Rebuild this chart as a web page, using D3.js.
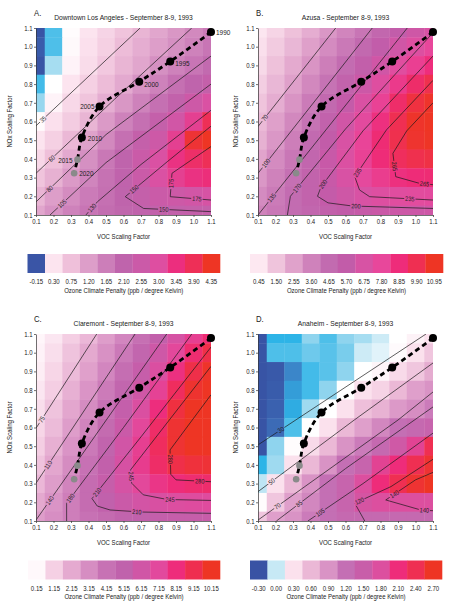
<!DOCTYPE html>
<html>
<head>
<meta charset="utf-8">
<script src="https://cdn.jsdelivr.net/npm/d3@7"></script>
<style>
body { margin: 0; background: #fff; }
text { font-family: "Liberation Sans", Arial, sans-serif; fill: #222; }
</style>
</head>
<body>
<div id="chart"></div>
<script>
// grid of scaling factors (columns = VOC, rows = NOx from top to bottom)
const vocVals = [0.1, 0.2, 0.3, 0.4, 0.5, 0.6, 0.7, 0.8, 0.9, 1.0, 1.1];
const noxVals = [1.1, 1.0, 0.9, 0.8, 0.7, 0.6, 0.5, 0.4, 0.3, 0.2, 0.1];

// emission trajectory
const years   = [1990, 1995, 2000, 2005, 2010, 2015, 2020];
const trajVoc = [1.10, 0.867, 0.69, 0.463, 0.362, 0.337, 0.318];
const trajNox = [1.078, 0.921, 0.813, 0.68, 0.514, 0.396, 0.323];

const letters = ["A.", "B.", "C.", "D."];
const titles = [
  "Downtown Los Angeles - September 8-9, 1993",
  "Azusa - September 8-9, 1993",
  "Claremont - September 8-9, 1993",
  "Anaheim - September 8-9, 1993"
];

// ozone climate penalty (ppb / K)
const penaltyA = [
  [-0.45, -0.12, 0.14, 0.30, 0.50, 0.70, 0.90, 1.10, 1.30, 1.50, 1.70],
  [-0.42, -0.12, 0.16, 0.35, 0.55, 0.80, 1.00, 1.20, 1.40, 1.60, 1.80],
  [-0.45, -0.03, 0.20, 0.40, 0.65, 0.90, 1.10, 1.40, 1.60, 1.80, 2.00],
  [-0.13, 0.12, 0.30, 0.55, 0.80, 1.05, 1.35, 1.60, 1.90, 2.10, 2.30],
  [-0.05, 0.20, 0.45, 0.70, 1.00, 1.30, 1.60, 1.90, 2.20, 2.60, 2.90],
  [0.15, 0.35, 0.60, 0.90, 1.25, 1.60, 1.90, 2.30, 2.70, 3.20, 3.90],
  [0.30, 0.55, 0.85, 1.15, 1.50, 1.90, 2.30, 2.60, 3.20, 4.20, 4.35],
  [0.45, 0.75, 1.05, 1.40, 1.75, 2.10, 2.50, 2.90, 3.40, 3.70, 3.90],
  [0.70, 0.95, 1.25, 1.55, 1.85, 2.15, 2.50, 2.90, 3.20, 3.40, 3.50],
  [0.90, 1.20, 1.45, 1.70, 1.90, 2.10, 2.30, 2.50, 2.60, 2.70, 2.80],
  [1.10, 1.35, 1.60, 1.80, 1.95, 2.05, 2.15, 2.20, 2.25, 2.30, 2.30]
];
const penaltyB = [
  [0.5, 1.0, 1.6, 2.2, 2.9, 3.5, 4.2, 4.9, 5.6, 6.3, 6.8],
  [0.7, 1.3, 1.9, 2.6, 3.3, 4.0, 4.8, 5.6, 6.4, 7.1, 7.8],
  [0.9, 1.6, 2.3, 3.0, 3.8, 4.6, 5.5, 6.4, 7.3, 8.1, 8.8],
  [1.2, 1.9, 2.6, 3.4, 4.3, 5.2, 6.2, 7.2, 8.3, 9.3, 10.0],
  [1.5, 2.2, 3.0, 3.9, 4.8, 5.8, 6.9, 8.0, 9.3, 10.3, 10.8],
  [1.8, 2.6, 3.4, 4.3, 5.3, 6.4, 7.5, 8.7, 9.9, 10.8, 11.0],
  [2.1, 2.9, 3.8, 4.7, 5.7, 6.8, 7.9, 9.0, 10.0, 10.7, 10.9],
  [2.5, 3.3, 4.1, 5.0, 6.0, 7.0, 8.0, 8.9, 9.6, 10.0, 10.2],
  [2.9, 3.6, 4.4, 5.2, 6.0, 6.8, 7.6, 8.2, 8.7, 8.9, 9.0],
  [3.3, 3.9, 4.6, 5.2, 5.8, 6.3, 6.8, 7.1, 7.3, 7.4, 7.5],
  [3.6, 4.1, 4.6, 5.0, 5.4, 5.7, 5.9, 6.1, 6.2, 6.2, 6.3]
];
const penaltyC = [
  [0.2, 0.6, 1.2, 1.8, 2.6, 3.4, 4.3, 5.3, 6.4, 7.5, 8.3],
  [0.3, 0.8, 1.5, 2.2, 3.0, 3.9, 4.9, 6.0, 7.2, 8.4, 9.3],
  [0.4, 1.0, 1.7, 2.5, 3.4, 4.4, 5.5, 6.7, 8.0, 9.3, 10.0],
  [0.6, 1.2, 2.0, 2.9, 3.8, 4.9, 6.1, 7.4, 8.8, 9.9, 10.3],
  [0.8, 1.5, 2.3, 3.2, 4.2, 5.4, 6.7, 8.1, 9.5, 10.3, 10.4],
  [1.0, 1.7, 2.6, 3.5, 4.6, 5.8, 7.2, 8.6, 9.8, 10.4, 10.5],
  [1.2, 2.0, 2.9, 3.9, 5.0, 6.2, 7.5, 8.8, 9.8, 10.3, 10.4],
  [1.5, 2.3, 3.2, 4.2, 5.3, 6.5, 7.6, 8.6, 9.3, 9.6, 9.7],
  [1.8, 2.6, 3.5, 4.5, 5.5, 6.4, 7.2, 7.8, 8.2, 8.4, 8.5],
  [2.2, 2.9, 3.7, 4.5, 5.2, 5.8, 6.3, 6.6, 6.8, 6.9, 7.0],
  [2.6, 3.1, 3.7, 4.2, 4.6, 5.0, 5.2, 5.4, 5.5, 5.5, 5.6]
];
const penaltyD = [
  [-0.45, -0.15, -0.15, -0.06, -0.12, -0.06, -0.03, 0.02, 0.12, 0.20, 0.30],
  [-0.45, -0.12, -0.12, -0.09, -0.11, -0.08, 0.02, 0.06, 0.15, 0.30, 0.50],
  [-0.45, -0.43, -0.27, -0.13, -0.11, -0.06, 0.12, 0.18, 0.35, 0.50, 0.70],
  [-0.45, -0.42, -0.21, -0.13, -0.06, 0.12, 0.30, 0.40, 0.60, 0.80, 0.90],
  [-0.45, -0.40, -0.17, -0.04, 0.12, 0.30, 0.55, 0.65, 0.85, 0.95, 1.10],
  [-0.45, -0.36, -0.12, 0.12, 0.30, 0.60, 0.80, 1.00, 1.20, 1.30, 1.40],
  [-0.45, -0.06, 0.14, 0.35, 0.60, 0.90, 1.10, 1.30, 1.60, 1.90, 2.40],
  [-0.15, -0.04, 0.30, 0.60, 0.90, 1.20, 1.40, 1.90, 2.10, 2.40, 2.60],
  [0.00, 0.30, 0.60, 0.90, 1.20, 1.40, 1.80, 2.10, 2.40, 2.60, 2.70],
  [0.14, 0.50, 0.80, 1.00, 1.20, 1.40, 1.70, 1.80, 1.80, 1.80, 1.80],
  [0.50, 0.80, 0.90, 1.10, 1.20, 1.30, 1.30, 1.30, 1.30, 1.30, 1.30]
];

// colour bar tick labels
const ticksA = [-0.15, 0.30, 0.75, 1.20, 1.65, 2.10, 2.55, 3.00, 3.45, 3.90, 4.35];
const ticksB = [0.45, 1.50, 2.55, 3.60, 4.65, 5.70, 6.75, 7.80, 8.85, 9.90, 10.95];
const ticksC = [0.15, 1.15, 2.15, 3.15, 4.15, 5.15, 6.15, 7.15, 8.15, 9.15, 10.15];
const ticksD = [-0.30, 0.00, 0.30, 0.60, 0.90, 1.20, 1.50, 1.80, 2.10, 2.40, 2.70];

// ozone isopleths (ppb): [VOC, NOx] vertices and label spots
const contoursA = [
  {level: 35,  pts: [[0.1, 0.577], [0.695, 1.1]], labels: [[0.14, 0.61]]},
  {level: 60,  pts: [[0.1, 0.323], [0.55, 0.72], [0.99, 1.1]], labels: [[0.19, 0.40]]},
  {level: 80,  pts: [[0.1, 0.17], [0.5, 0.53], [1.1, 0.95]], labels: [[0.18, 0.24]]},
  {level: 105, pts: [[0.18, 0.1], [0.5, 0.38], [1.1, 0.8]], labels: [[0.25, 0.16]]},
  {level: 130, pts: [[0.385, 0.1], [0.45, 0.17], [0.7, 0.37], [1.1, 0.66]], labels: [[0.42, 0.14]]},
  {level: 150, pts: [[1.1, 0.575], [0.85, 0.385], [0.61, 0.198], [0.715, 0.135], [1.1, 0.118]], labels: [[0.66, 0.24], [0.83, 0.127]]},
  {level: 175, pts: [[1.1, 0.466], [0.877, 0.323], [0.867, 0.198], [1.1, 0.18]], labels: [[0.87, 0.27], [1.02, 0.187]]}
];
const contoursB = [
  {level: 70,  pts: [[0.1, 0.573], [0.544, 1.1]], labels: [[0.14, 0.62]]},
  {level: 100, pts: [[0.1, 0.323], [0.753, 1.1]], labels: [[0.145, 0.377]]},
  {level: 135, pts: [[0.1, 0.1], [0.953, 1.1]], labels: [[0.18, 0.19]]},
  {level: 170, pts: [[0.268, 0.1], [0.285, 0.2], [0.6, 0.56], [1.1, 1.075]], labels: [[0.3, 0.26]]},
  {level: 200, pts: [[1.1, 0.95], [0.7, 0.55], [0.46, 0.25], [0.44, 0.2], [0.5, 0.165], [0.64, 0.148], [1.1, 0.135]], labels: [[0.45, 0.28], [0.66, 0.145]]},
  {level: 235, pts: [[1.1, 0.82], [0.834, 0.555], [0.653, 0.305], [0.68, 0.234], [0.738, 0.198], [1.1, 0.18]], labels: [[0.665, 0.33], [0.967, 0.19]]},
  {level: 265, pts: [[1.1, 0.7], [0.95, 0.55], [0.871, 0.43], [0.887, 0.305], [1.02, 0.27], [1.1, 0.262]], labels: [[0.878, 0.36], [1.05, 0.268]]}
];
const contoursC = [
  {level: 75,  pts: [[0.1, 0.596], [0.447, 1.1]], labels: [[0.132, 0.645]]},
  {level: 110, pts: [[0.1, 0.302], [0.666, 1.1]], labels: [[0.17, 0.40]]},
  {level: 140, pts: [[0.1, 0.105], [0.847, 1.1]], labels: [[0.18, 0.21]]},
  {level: 180, pts: [[0.275, 0.1], [0.275, 0.195], [0.6, 0.6], [0.99, 1.1]], labels: [[0.285, 0.23]]},
  {level: 210, pts: [[1.1, 1.03], [0.7, 0.55], [0.42, 0.22], [0.45, 0.18], [0.523, 0.159], [0.7, 0.148], [1.1, 0.141]], labels: [[0.44, 0.26], [0.675, 0.15]]},
  {level: 245, pts: [[1.1, 0.927], [0.64, 0.373], [0.647, 0.302], [0.713, 0.24], [0.85, 0.215], [1.1, 0.21]], labels: [[0.642, 0.34], [0.866, 0.215]]},
  {level: 280, pts: [[1.1, 0.775], [0.866, 0.48], [0.87, 0.35], [0.9, 0.32], [1.1, 0.31]], labels: [[0.867, 0.43], [1.037, 0.313]]}
];
const contoursD = [
  {level: 30,  pts: [[0.1, 0.507], [1.06, 1.1]], labels: [[0.23, 0.59]]},
  {level: 50,  pts: [[0.1, 0.257], [0.65, 0.64], [1.1, 0.945]], labels: [[0.18, 0.31]]},
  {level: 70,  pts: [[0.1, 0.105], [0.9, 0.64], [1.1, 0.79]], labels: [[0.21, 0.18]]},
  {level: 85,  pts: [[0.205, 0.1], [0.6, 0.38], [1.1, 0.71]], labels: [[0.337, 0.19]]},
  {level: 105, pts: [[0.385, 0.1], [0.7, 0.3], [1.1, 0.57]], labels: [[0.455, 0.145]]},
  {level: 120, pts: [[0.71, 0.1], [0.653, 0.195], [0.86, 0.284], [1.1, 0.43]], labels: [[0.68, 0.207]]},
  {level: 140, pts: [[1.1, 0.36], [1.0, 0.32], [0.83, 0.2125], [1.03, 0.159], [1.1, 0.155]], labels: [[0.88, 0.245], [1.05, 0.155]]}
];

// colours
const coolStops  = [-0.45, -0.30, -0.15, -0.06, 0.02, 0.12];
const coolColors = ["#3854a5", "#3f7ac2", "#2db4e7", "#8fd4ee", "#cdebf6", "#ffffff"];
const swatchA = ["#3a55a6", "#fce4ef", "#efc0da", "#dd9ec9", "#cc7eb9", "#bf64ac", "#cb5aa8", "#de4ea1", "#ec2e7e", "#ee2f57", "#ee3524"];
const swatchB = ["#fde8f1", "#efc4dc", "#e0a2cb", "#cf82bb", "#c26bb0", "#c25ca9", "#d753a4", "#e8479b", "#ee2c7a", "#ef2f52", "#ee3524"];
const swatchC = ["#fff8fb", "#f5d0e4", "#e5aad0", "#d68dc2", "#c772b4", "#c062ac", "#d056a6", "#e2499d", "#ee2c7b", "#ef2e4f", "#ee3524"];
const swatchD = ["#3953a4", "#c7e9f5", "#fbe1ed", "#ebb8d6", "#d993c5", "#c46fb4", "#c85ea9", "#dc4f9f", "#ee2c7a", "#ef2f52", "#ee3524"];

const panels = [
  {values: penaltyA, ticks: ticksA, swatches: swatchA, contours: contoursA, yearLabels: true,
   cellDomain: coolStops.concat(ticksA.slice(1)), cellRange: coolColors.concat(swatchA.slice(1))},
  {values: penaltyB, ticks: ticksB, swatches: swatchB, contours: contoursB,
   cellDomain: ticksB, cellRange: swatchB},
  {values: penaltyC, ticks: ticksC, swatches: swatchC, contours: contoursC,
   cellDomain: ticksC, cellRange: swatchC},
  {values: penaltyD, ticks: ticksD, swatches: swatchD, contours: contoursD,
   cellDomain: coolStops.concat(ticksD.slice(2)), cellRange: coolColors.concat(swatchD.slice(2))}
];

const layout = [
  {x0: 36,  x1: 211, y0: 28,  y1: 215, ylab: 12,  bar: [27.5, 220, 254]},
  {x0: 258, x1: 433, y0: 28,  y1: 215, ylab: 238, bar: [250, 443, 254]},
  {x0: 36,  x1: 211, y0: 334, y1: 521, ylab: 12,  bar: [28, 220, 560.5]},
  {x0: 258, x1: 433, y0: 334, y1: 521, ylab: 238, bar: [250, 442, 560.5]}
];

// year label offsets (panel A only)
const yearOffsets = {
  1990: [5, 3, "start"], 1995: [5, 5, "start"], 2000: [5, 5, "start"],
  2005: [-5, 2, "end"], 2010: [6, 3, "start"], 2015: [-5, 3, "end"], 2020: [5, 3, "start"]
};

const svg = d3.select("#chart").append("svg")
  .attr("width", 452)
  .attr("height", 609);

panels.forEach((p, i) => drawPanel(p, layout[i], i));

// the original lettering is a narrow grotesque: squeeze every label a little
svg.selectAll("text").each(function () {
  const w = this.getComputedTextLength();
  this.setAttribute("textLength", (w * 0.86).toFixed(2));
  this.setAttribute("lengthAdjust", "spacingAndGlyphs");
});

function drawPanel(p, L, idx) {
  const x = d3.scaleLinear().domain([0.1, 1.1]).range([L.x0, L.x1]);
  const y = d3.scaleLinear().domain([0.1, 1.1]).range([L.y1, L.y0]);
  const color = d3.scaleLinear().domain(p.cellDomain).range(p.cellRange).clamp(true);

  const g = svg.append("g");
  const clipId = "clip" + idx;
  g.append("clipPath").attr("id", clipId)
    .append("rect")
    .attr("x", L.x0).attr("y", L.y0)
    .attr("width", L.x1 - L.x0).attr("height", L.y1 - L.y0);

  // heat map cells
  const cells = [];
  p.values.forEach((row, r) => row.forEach((v, c) => cells.push({voc: vocVals[c], nox: noxVals[r], v})));
  g.append("g")
    .attr("clip-path", `url(#${clipId})`)
    .selectAll("rect")
    .data(cells)
    .join("rect")
    .attr("x", d => x(d.voc - 0.05))
    .attr("y", d => y(d.nox + 0.05))
    .attr("width", d => x(d.voc + 0.05) - x(d.voc - 0.05) + 0.4)
    .attr("height", d => y(d.nox - 0.05) - y(d.nox + 0.05) + 0.4)
    .attr("fill", d => color(d.v));

  // contour lines with gaps under their labels
  const maskId = "mask" + idx;
  const mask = g.append("mask").attr("id", maskId)
    .attr("maskUnits", "userSpaceOnUse")
    .attr("x", 0).attr("y", 0).attr("width", 452).attr("height", 609);
  mask.append("rect").attr("width", 452).attr("height", 609).attr("fill", "white");

  const cg = g.append("g").attr("clip-path", `url(#${clipId})`);
  const lineLayer = cg.append("g").attr("mask", `url(#${maskId})`);
  const contourLine = d3.line().x(d => x(d[0])).y(d => y(d[1]));

  p.contours.forEach(ct => {
    const path = lineLayer.append("path")
      .attr("d", contourLine(ct.pts))
      .attr("fill", "none")
      .attr("stroke", "#1a1a1a")
      .attr("stroke-width", 0.7);
    const node = path.node();
    const len = node.getTotalLength();
    ct.labels.forEach(lab => {
      const tx = x(lab[0]), ty = y(lab[1]);
      let best = 0, bd = Infinity;
      for (let l = 0; l <= len; l += 0.5) {
        const pt = node.getPointAtLength(l);
        const dd = (pt.x - tx) ** 2 + (pt.y - ty) ** 2;
        if (dd < bd) { bd = dd; best = l; }
      }
      const a = node.getPointAtLength(Math.max(0, best - 3));
      const b = node.getPointAtLength(Math.min(len, best + 3));
      let ang = Math.atan2(b.y - a.y, b.x - a.x) * 180 / Math.PI;
      if (ang >= 90) ang -= 180;
      if (ang < -90) ang += 180;
      const c = node.getPointAtLength(best);
      const tr = `translate(${c.x},${c.y}) rotate(${ang})`;
      const t = cg.append("text")
        .attr("transform", tr)
        .attr("text-anchor", "middle")
        .attr("dy", "0.35em")
        .attr("font-size", 6.5)
        .text(ct.level);
      const w = t.node().getComputedTextLength() * 0.86;
      mask.append("rect")
        .attr("transform", tr)
        .attr("x", -w / 2 - 1).attr("y", -3)
        .attr("width", w + 2).attr("height", 6)
        .attr("fill", "black");
    });
  });

  // emission trajectory
  const traj = years.map((yr, i) => ({yr, voc: trajVoc[i], nox: trajNox[i]}));
  g.append("path")
    .datum(traj)
    .attr("d", d3.line().x(d => x(d.voc)).y(d => y(d.nox)).curve(d3.curveCatmullRom))
    .attr("fill", "none")
    .attr("stroke", "#000")
    .attr("stroke-width", 2.8)
    .attr("stroke-dasharray", "5,3.5");

  g.selectAll(".pt")
    .data(traj)
    .join("circle")
    .attr("class", "pt")
    .attr("cx", d => x(d.voc))
    .attr("cy", d => y(d.nox))
    .attr("r", d => d.yr > 2010 ? 3.3 : 4)
    .attr("fill", d => d.yr > 2010 ? "#8a8a8a" : "#000");

  if (p.yearLabels) {
    g.selectAll(".yr")
      .data(traj)
      .join("text")
      .attr("class", "yr")
      .attr("x", d => x(d.voc) + yearOffsets[d.yr][0])
      .attr("y", d => y(d.nox) + yearOffsets[d.yr][1])
      .attr("text-anchor", d => yearOffsets[d.yr][2])
      .attr("font-size", 7.5)
      .text(d => d.yr);
  }

  // axes
  const fmt = d3.format(".1f");
  const xAxis = g.append("g")
    .attr("transform", `translate(0,${L.y1})`)
    .call(d3.axisBottom(x).tickValues(vocVals).tickFormat(fmt).tickSize(2).tickSizeOuter(0).tickPadding(2.5));
  const yAxis = g.append("g")
    .attr("transform", `translate(${L.x0},0)`)
    .call(d3.axisLeft(y).tickValues(vocVals).tickFormat(fmt).tickSize(2).tickSizeOuter(0).tickPadding(1.5));
  [xAxis, yAxis].forEach(a => {
    a.attr("font-family", null).attr("font-size", 7);
    a.selectAll("path, line").attr("stroke", "#333").attr("stroke-width", 0.7);
  });

  g.append("text")
    .attr("x", (L.x0 + L.x1) / 2).attr("y", L.y1 + 24)
    .attr("text-anchor", "middle").attr("font-size", 7)
    .text("VOC Scaling Factor");
  g.append("text")
    .attr("transform", `translate(${L.ylab},${(L.y0 + L.y1) / 2}) rotate(-90)`)
    .attr("text-anchor", "middle").attr("font-size", 7)
    .text("NOx Scaling Factor");

  // titles
  g.append("text")
    .attr("x", L.x0 - 2).attr("y", L.y0 - 12.5)
    .attr("font-size", 9)
    .text(letters[idx]);
  g.append("text")
    .attr("x", (L.x0 + L.x1) / 2).attr("y", L.y0 - 8.5)
    .attr("text-anchor", "middle").attr("font-size", 7.8)
    .text(titles[idx]);

  // colour bar
  const bx = d3.scaleBand().domain(d3.range(p.ticks.length)).range([L.bar[0], L.bar[1]]);
  const bar = g.append("g");
  bar.selectAll("rect")
    .data(p.ticks)
    .join("rect")
    .attr("x", (d, i) => bx(i))
    .attr("y", L.bar[2])
    .attr("width", bx.bandwidth() + 0.3)
    .attr("height", 19)
    .attr("fill", (d, i) => p.swatches[i]);
  bar.selectAll("text")
    .data(p.ticks)
    .join("text")
    .attr("x", (d, i) => bx(i) + bx.bandwidth() / 2)
    .attr("y", L.bar[2] + 30)
    .attr("text-anchor", "middle")
    .attr("font-size", 7)
    .text(d => d.toFixed(2));
  g.append("text")
    .attr("x", (L.bar[0] + L.bar[1]) / 2).attr("y", L.bar[2] + 38.5)
    .attr("text-anchor", "middle").attr("font-size", 7)
    .text("Ozone Climate Penalty (ppb / degree Kelvin)");
}
</script>
</body>
</html>
